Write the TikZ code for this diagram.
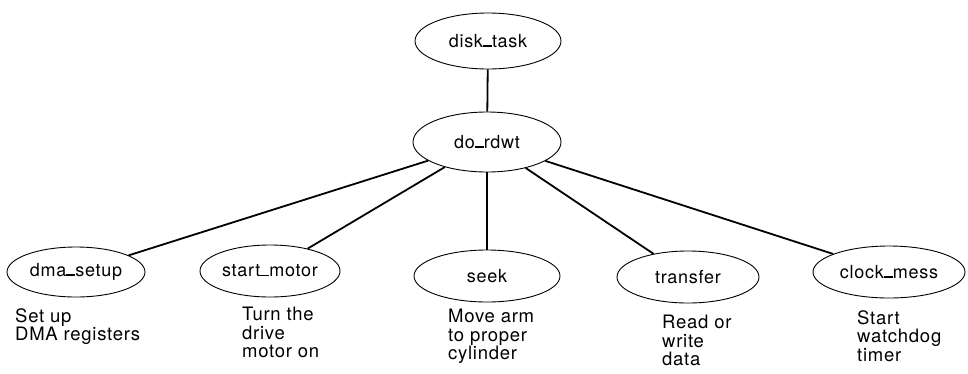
\documentclass[tikz,border=0pt]{standalone}
\usepackage{fontspec}
\setmainfont{TeX Gyre Heros}[LetterSpace=4]
\usetikzlibrary{shapes.geometric}
\newcommand\us{\rule[0.05em]{0.5em}{0.075em}}
\tikzset{
  proc/.style={draw, ellipse, line width=0.9pt, inner sep=0pt,
    font=\fontsize{18}{18}\selectfont},
  link/.style={line width=1.8pt},
  desc/.style={anchor=north west, align=left, inner sep=0pt,
    font=\fontsize{18.5}{18.5}\selectfont}
}
\begin{document}
\begin{tikzpicture}[x=1pt,y=-1pt]
\useasboundingbox (0,0) rectangle (968,373);
\node[proc, minimum width=146pt, minimum height=56pt] (disk) at (488,41) {disk\us task};
\node[proc, minimum width=148pt, minimum height=60pt] (do) at (487,142) {do\us rdwt};
\node[proc, minimum width=138pt, minimum height=50pt] (dma) at (76,272) {dma\us setup};
\node[proc, minimum width=140pt, minimum height=52pt] (start) at (270,271) {start\us motor};
\node[proc, minimum width=146pt, minimum height=52pt] (seek) at (487,276) {seek};
\node[proc, minimum width=142pt, minimum height=52pt] (transfer) at (688,277) {transfer};
\node[proc, minimum width=152pt, minimum height=52pt] (clock) at (889,272) {clock\us mess};

\draw[link] (disk) -- (do);
\draw[link] (do) -- (dma);
\draw[link] (do) -- (start);
\draw[link] (do) -- (seek);
\draw[link] (do) -- (transfer);
\draw[link] (do) -- (clock);

\node[desc] (ddma) at (15,308) {Set up\\DMA registers};
\node[desc] (dstart) at (242,307) {Turn the\\drive\\motor on};
\node[desc] (dseek) at (448,309) {Move arm\\to proper\\cylinder};
\node[desc] (dtransfer) at (662,315) {Read or\\write\\data};
\node[desc] (dclock) at (857,310) {Start\\watchdog\\timer};
\end{tikzpicture}
\end{document}
